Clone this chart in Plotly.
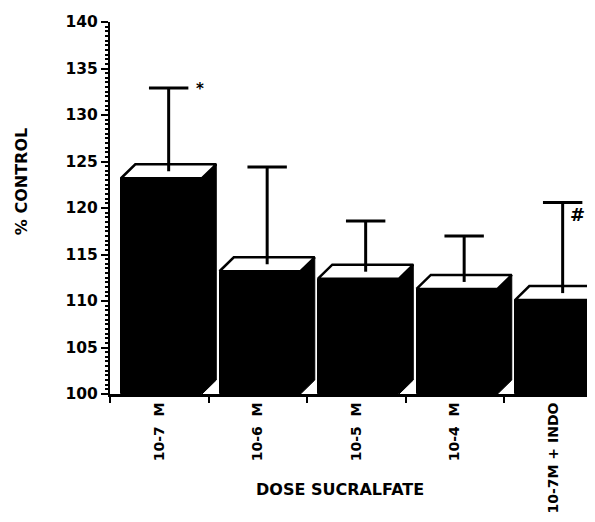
import plotly.graph_objects as go

categories = ["10-7\u00a0\u00a0M", "10-6\u00a0\u00a0M", "10-5\u00a0\u00a0M", "10-4\u00a0\u00a0M", "10-7M\u00a0+\u00a0INDO"]
values = [123.2, 113.2, 112.4, 111.3, 110.1]
err_upper = [9.7, 11.2, 6.2, 5.7, 10.5]
marks = ["*", "", "", "", "#"]
y_ticks = [100, 105, 110, 115, 120, 125, 130, 135, 140]

# 3D bar geometry (in axis units)
L, R = -0.388, 0.434
DX, DY = 0.145, 1.5
CAP = 0.2
BASE = 100

FONT = "DejaVu Sans"

# page body has an 8px margin; size the figure so the page does not overflow
OFF = 8
W, H = 595 - 2 * OFF, 522 - 2 * OFF
PL, PT, PB = 110 - OFF, 22 - OFF, 396 - OFF   # plot-area left/top/bottom in figure px
PW = W - PL
PH = PB - PT


def px_x(px):
    return (px - OFF - PL) / PW


def px_y(py):
    return (PB - (py - OFF)) / PH


fig = go.Figure()
idx = list(range(len(values)))

# front faces
fig.add_trace(go.Bar(
    x=[i + (L + R) / 2 for i in idx], y=[v - BASE for v in values], base=BASE,
    width=R - L, marker=dict(color="black", line=dict(color="black", width=1)),
    hoverinfo="skip", showlegend=False))

for i, v in zip(idx, values):
    x0, x1 = i + L, i + R
    # side face
    fig.add_trace(go.Scatter(
        x=[x1, x1 + DX, x1 + DX, x1, x1], y=[BASE, BASE + DY, v + DY, v, BASE],
        fill="toself", fillcolor="black", mode="lines",
        line=dict(color="black", width=1), hoverinfo="skip", showlegend=False))
    # top face
    fig.add_trace(go.Scatter(
        x=[x0, x0 + DX, x1 + DX, x1, x0], y=[v, v + DY, v + DY, v, v],
        fill="toself", fillcolor="white", mode="lines",
        line=dict(color="black", width=2.5), hoverinfo="skip", showlegend=False))

# error bars
ex, ey = [], []
for i, v, e in zip(idx, values, err_upper):
    xc = i + (L + R) / 2 + DX / 2
    ex += [xc, xc, None, xc - CAP, xc + CAP, None]
    ey += [v + DY / 2, v + e, None, v + e, v + e, None]
fig.add_trace(go.Scatter(x=ex, y=ey, mode="lines", line=dict(color="black", width=3),
                         hoverinfo="skip", showlegend=False))

# x range: one category = 98.5 px, left edge at -0.5
x_right = -0.5 + PW / 98.5

# significance marks
for i, v, e, m in zip(idx, values, err_upper, marks):
    if not m:
        continue
    xc = i + (L + R) / 2 + DX / 2
    if m == "*":
        fig.add_annotation(x=xc + CAP + 0.06, y=v + e, text="*", showarrow=False,
                           xanchor="left", yanchor="middle", yshift=-1,
                           font=dict(family=FONT, size=15, color="black", weight="bold"))
    else:
        fig.add_annotation(x=min(xc + CAP + 0.19, x_right), y=v + e - 1.3, text="#", showarrow=False,
                           xanchor="right", yanchor="middle",
                           font=dict(family=FONT, size=18, color="black", weight="bold"))

fig.update_layout(
    width=W, height=H,
    margin=dict(l=PL, r=0, t=PT, b=H - PB),
    paper_bgcolor="white", plot_bgcolor="white",
    bargap=0,
    xaxis=dict(
        range=[-0.5, x_right], tickvals=idx, ticktext=categories, tickangle=-90,
        ticks="", showgrid=False, zeroline=False,
        showline=True, linecolor="black", linewidth=3,
        tickfont=dict(family=FONT, size=14, color="black", weight="bold"),
        minor=dict(tick0=-0.5, dtick=1, ticks="outside", ticklen=6, tickwidth=2, tickcolor="black", showgrid=False),
    ),
    yaxis=dict(
        range=[100, 140], tickvals=y_ticks, ticks="outside", ticklen=7, tickwidth=2, tickcolor="black",
        showgrid=False, zeroline=False, showline=True, linecolor="black", linewidth=2,
        tickfont=dict(family=FONT, size=15.5, color="black", weight="bold"),
        minor=dict(dtick=0.5, ticks="outside", ticklen=3, tickwidth=1.5, tickcolor="black", showgrid=False),
    ),
)

fig.add_annotation(text="DOSE SUCRALFATE", xref="paper", yref="paper",
                   x=px_x(340), y=px_y(492), showarrow=False,
                   xanchor="center", yanchor="middle",
                   font=dict(family=FONT, size=16, color="black", weight="bold"))
fig.add_annotation(text="% CONTROL", xref="paper", yref="paper",
                   x=px_x(21), y=px_y(183), showarrow=False, textangle=-90,
                   xanchor="center", yanchor="middle",
                   font=dict(family=FONT, size=16, color="black", weight="bold"))

fig.write_html("out.html")
